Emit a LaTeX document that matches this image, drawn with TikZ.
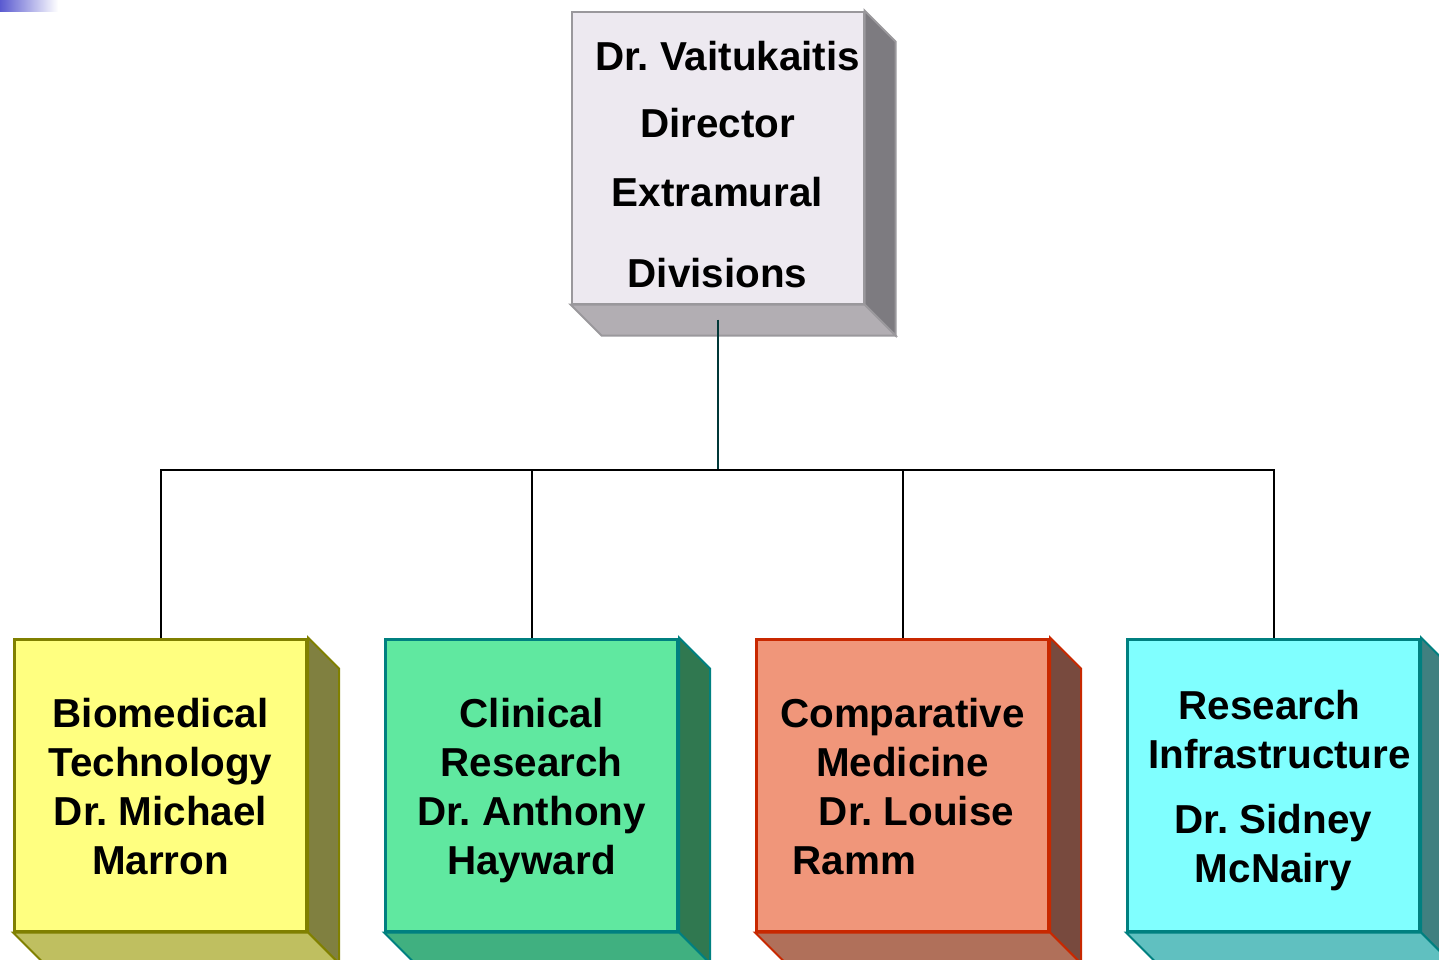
\documentclass[tikz,border=0pt]{standalone}
\usepackage{fontspec}
\setmainfont{Liberation Sans}
\usetikzlibrary{backgrounds}
\definecolor{dirfront}{HTML}{EDE9F0}
\definecolor{dirside}{HTML}{7D7B80}
\definecolor{dirbottom}{HTML}{B2AEB3}
\definecolor{dirline}{HTML}{9A989C}
\definecolor{biofront}{HTML}{FFFF80}
\definecolor{bioside}{HTML}{808040}
\definecolor{biobottom}{HTML}{BFBF60}
\definecolor{bioline}{HTML}{808000}
\definecolor{clinfront}{HTML}{60E8A0}
\definecolor{clinside}{HTML}{307850}
\definecolor{clinbottom}{HTML}{40B080}
\definecolor{clinline}{HTML}{008080}
\definecolor{compfront}{HTML}{F0967A}
\definecolor{compside}{HTML}{784A3E}
\definecolor{compbottom}{HTML}{B0705A}
\definecolor{compline}{HTML}{C82800}
\definecolor{infrafront}{HTML}{80FFFF}
\definecolor{infraside}{HTML}{408080}
\definecolor{infrabottom}{HTML}{60C0C0}
\definecolor{infraline}{HTML}{008080}
\definecolor{toplink}{HTML}{003838}
\newcommand{\pad}[1]{\rule{0pt}{#1}}
\begin{document}
\begin{tikzpicture}[x=0.5pt,y=-0.5pt,
		face/.style={line width=1.5pt,minimum width=146pt,minimum height=146pt,inner sep=0,align=center,
			text depth=0pt,font=\fontsize{20.2pt}{24.5pt}\selectfont\bfseries\frenchspacing},
		link/.style={line width=1pt}]
		\useasboundingbox (0,0) rectangle (1439,959);
		\shade[left color={rgb,255:red,90;green,90;blue,208},right color=white] (0,0) rectangle (58,11);
		% director
		\node[face,draw=dirline,line width=1pt,fill=dirfront] (dir) at (717.5,157.5)
			{\pad{21.4pt}\hspace*{10pt}Dr. Vaitukaitis\\[9pt]Director\\[10pt]Extramural\\[16pt]Divisions};
		% divisions
		\begin{scope}[nodes={face}]
		\node[draw=bioline,fill=biofront] (bio) at (160.5,785)
			{\pad{16.4pt}Biomedical\\Technology\\Dr. Michael\\Marron};
		\node[draw=clinline,fill=clinfront] (clin) at (531.5,785)
			{\pad{16.4pt}Clinical\\Research\\Dr. Anthony\\Hayward};
		\node[draw=compline,fill=compfront] (comp) at (902.5,785)
			{\pad{16.4pt}Comparative\\Medicine\\\hspace*{14pt}Dr. Louise\\Ramm\hspace*{48pt}};
		\node[draw=infraline,fill=infrafront] (infra) at (1273.5,785)
			{\pad{16.4pt}Research\hspace*{4pt}\\\hspace*{6pt}Infrastructure\\[8pt]Dr. Sidney\\McNairy};
		\end{scope}
		% depth of the boxes
		\begin{scope}[on background layer]
		\foreach \n in {dir,bio,clin,comp,infra}
			{\filldraw[draw=\n line,fill=\n side,line width=1pt] (\n.north east) -- ++(31,31)
				-- ([shift={(31,31)}]\n.south east) -- (\n.south east) -- cycle;
			\filldraw[draw=\n line,fill=\n bottom,line width=1pt] (\n.south west) -- (\n.south east)
				-- ([shift={(31,31)}]\n.south east) -- ([shift={(31,31)}]\n.south west) -- cycle;}
		\end{scope}
		% connectors
		\coordinate (hub) at ([yshift=-82.5pt]dir.south);
		\draw[link,toplink] ([yshift=-7.5pt]dir.south) -- (hub);
		\foreach \c in {bio,clin,comp,infra}
			\draw[link] (hub) -| (\c.north);
		\end{tikzpicture}
\end{document}
